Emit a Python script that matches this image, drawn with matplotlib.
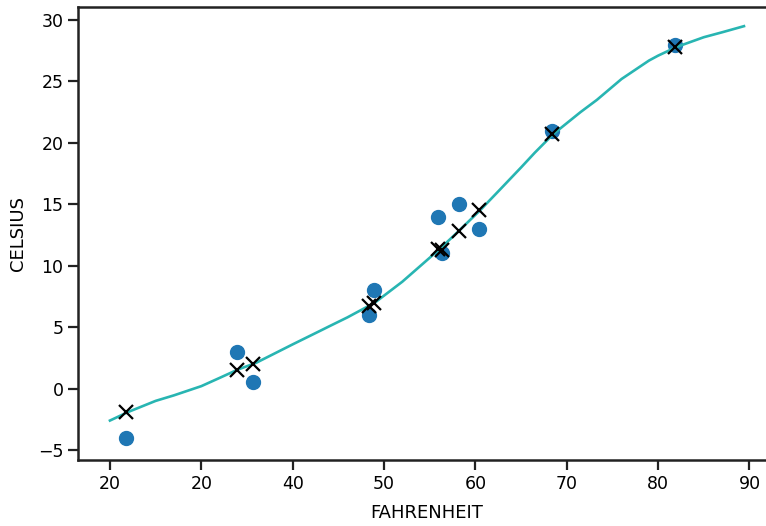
#temperature model: measured celsius vs fahrenheit readings
import numpy as np
import matplotlib.pyplot as plt

#measured points
t_u = [35.7, 55.9, 58.2, 81.9, 56.3, 48.9, 33.9, 21.8, 48.4, 60.4, 68.4]
t_c = [0.5, 14.0, 15.0, 28.0, 11.0, 8.0, 3.0, -4.0, 6.0, 13.0, 21.0]

#model output at the measured points
t_p = [2.0, 11.4, 12.8, 27.8, 11.3, 7.0, 1.55, -1.9, 6.7, 14.5, 20.7]

#model curve
curve_x = [20, 22, 25, 27, 30, 32, 34, 36, 38, 40, 43, 44, 46, 49, 52, 54, 56, 58,
           60.5, 62.5, 65, 66.5, 68.5, 70, 71.5, 73.3, 76, 78, 79, 80, 82, 85, 87, 89.4]
curve_y = [-2.6, -1.9, -1.0, -0.55, 0.2, 0.87, 1.55, 2.1, 2.85, 3.6, 4.7, 5.07, 5.8, 7.0, 8.7, 10.0, 11.3, 12.7,
           14.5, 16.05, 18.0, 19.2, 20.7, 21.6, 22.5, 23.5, 25.2, 26.2, 26.7, 27.1, 27.8, 28.6, 29.0, 29.5]

x_ticks = [20, 30, 40, 50, 60, 70, 80, 90]
x_tick_labels = ['20', '20', '40', '50', '60', '70', '80', '90']
y_ticks = [-5, 0, 5, 10, 15, 20, 25, 30]

fig = plt.figure(figsize=(7.66, 5.26), dpi=100)
ax = fig.add_axes([0.1018, 0.1255, 0.91, 0.8612])

ax.plot(curve_x, curve_y, color='#28b5b2', lw=1.9, zorder=2)
ax.plot(t_u, t_c, 'o', color='#1f77b4', ms=10, zorder=1)
ax.plot(t_u, t_p, 'kx', ms=10, mew=1.6, zorder=3)

ax.set_xlim(16.5, 92.8)
ax.set_ylim(-5.81, 31.06)
ax.set_xticks(x_ticks)
ax.set_xticklabels(x_tick_labels)
ax.set_yticks(y_ticks)

for s in ax.spines.values():
    s.set_linewidth(1.8)
    s.set_color('#222222')
ax.tick_params(length=7, width=1.6, labelsize=12.5, color='#222222')
ax.set_xlabel('FAHRENHEIT', fontsize=13, labelpad=8)
ax.set_ylabel('CELSIUS', fontsize=13, labelpad=8)

fig.savefig('out.png', dpi=100)
